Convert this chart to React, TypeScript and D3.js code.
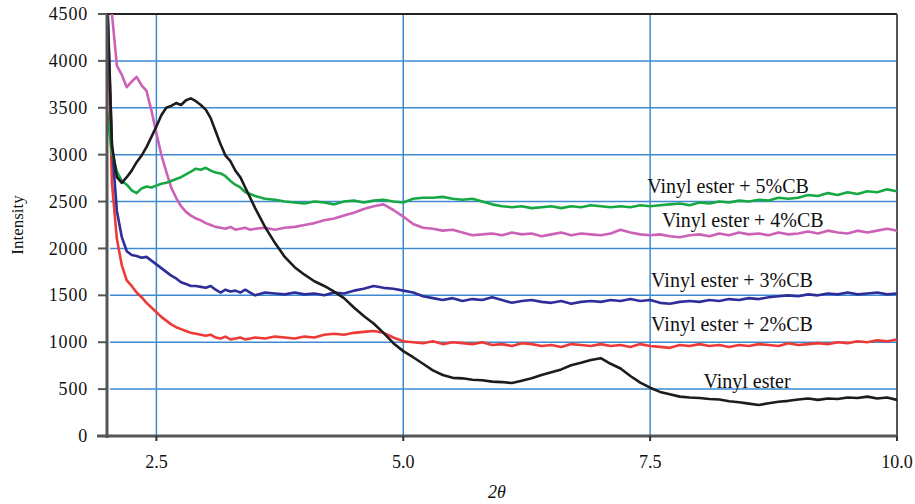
import React from 'react'
import * as d3 from 'd3'

// 2θ positions shared by every scan
const twoTheta = [
  2.0, 2.05, 2.1, 2.15, 2.2, 2.25, 2.3, 2.35, 2.4, 2.45, 2.5, 2.55, 2.6, 2.65, 2.7, 2.75,
  2.8, 2.85, 2.9, 2.95, 3.0, 3.05, 3.1, 3.15, 3.2, 3.25, 3.3, 3.35, 3.4, 3.45, 3.5,
  3.6, 3.7, 3.8, 3.9, 4.0, 4.1, 4.2, 4.3, 4.4, 4.5, 4.6, 4.7, 4.8, 4.9, 5.0,
  5.1, 5.2, 5.3, 5.4, 5.5, 5.6, 5.7, 5.8, 5.9, 6.0, 6.1, 6.2, 6.3, 6.4, 6.5,
  6.6, 6.7, 6.8, 6.9, 7.0, 7.1, 7.2, 7.3, 7.4, 7.5, 7.6, 7.7, 7.8, 7.9, 8.0,
  8.1, 8.2, 8.3, 8.4, 8.5, 8.6, 8.7, 8.8, 8.9, 9.0, 9.1, 9.2, 9.3, 9.4, 9.5,
  9.6, 9.7, 9.8, 9.9, 10.0,
]

const vinylEster = [
  4700, 3100, 2760, 2700, 2760, 2830, 2920, 2990, 3080, 3190, 3300, 3420, 3500, 3520, 3550, 3530,
  3580, 3600, 3570, 3530, 3480, 3390, 3250, 3110, 2990, 2930, 2830, 2760, 2650, 2540, 2430,
  2230, 2060, 1910, 1800, 1720, 1650, 1600, 1540, 1470, 1370, 1280, 1200, 1100, 990, 905,
  840, 770, 700, 650, 620, 615, 600, 595, 580, 575, 565, 590, 615, 650, 680,
  710, 755, 780, 810, 830, 770, 720, 640, 570, 515, 470, 445, 420, 410, 405,
  395, 390, 370, 360, 345, 330, 350, 365, 375, 390, 400, 385, 400, 395, 410,
  405, 420, 400, 410, 385,
]

const cb2 = [
  4700, 2700, 2100, 1820, 1660, 1600, 1530, 1480, 1420, 1370, 1320, 1270, 1230, 1190, 1160, 1140,
  1120, 1100, 1090, 1080, 1070, 1080, 1050, 1040, 1060, 1030, 1040, 1050, 1030, 1040, 1050,
  1040, 1060, 1050, 1040, 1060, 1050, 1080, 1090, 1080, 1100, 1110, 1120, 1100, 1050, 1010,
  1000, 990, 1010, 980, 1000, 990, 980, 1000, 970, 980, 960, 990, 980, 960, 970,
  950, 980, 970, 960, 980, 960, 970, 950, 980, 960, 950, 940, 970, 960, 980,
  960, 970, 950, 970, 960, 980, 970, 960, 990, 970, 980, 990, 980, 1000, 990,
  1010, 1000, 1020, 1010, 1030,
]

const cb3 = [
  4800, 3100, 2400, 2120, 1970, 1930, 1920, 1900, 1910, 1870, 1830, 1790, 1750, 1710, 1680, 1640,
  1620, 1600, 1600, 1590, 1580, 1600, 1560, 1530, 1560, 1540, 1550, 1530, 1560, 1530, 1500,
  1530, 1520, 1510, 1530, 1510, 1520, 1500, 1530, 1520, 1550, 1570, 1600, 1580, 1570, 1550,
  1530, 1490, 1470, 1450, 1470, 1440, 1460, 1450, 1480, 1450, 1420, 1440, 1450, 1430, 1420,
  1440, 1410, 1430, 1440, 1430, 1450, 1440, 1460, 1440, 1450, 1420, 1410, 1430, 1440, 1430,
  1450, 1440, 1460, 1450, 1470, 1460, 1480, 1490, 1500, 1490, 1510, 1500, 1520, 1510, 1530,
  1510, 1520, 1530, 1510, 1520,
]

const cb4 = [
  4800, 4500, 3950, 3850, 3720, 3780, 3830, 3740, 3680, 3470, 3230, 3000, 2820, 2650, 2540, 2450,
  2390, 2350, 2320, 2300, 2270, 2250, 2230, 2220, 2210, 2230, 2200, 2210, 2220, 2200, 2210,
  2220, 2200, 2220, 2230, 2250, 2270, 2300, 2320, 2350, 2380, 2420, 2450, 2470, 2410, 2340,
  2260, 2220, 2210, 2190, 2200, 2170, 2140, 2150, 2160, 2140, 2170, 2150, 2160, 2130, 2150,
  2170, 2140, 2160, 2150, 2140, 2160, 2200, 2170, 2150, 2140, 2150, 2130, 2120, 2140, 2150,
  2130, 2160, 2140, 2170, 2150, 2160, 2140, 2170, 2150, 2160, 2180, 2160, 2190, 2170, 2160,
  2190, 2170, 2190, 2210, 2190,
]

const cb5 = [
  3470, 3020, 2820, 2720, 2680, 2620, 2590, 2640, 2660, 2650, 2670, 2690, 2700, 2720, 2740, 2760,
  2790, 2820, 2850, 2840, 2860, 2830, 2810, 2800, 2770, 2720, 2680, 2650, 2600, 2580, 2560,
  2530, 2520, 2500, 2490, 2480, 2500, 2490, 2470, 2500, 2510, 2490, 2510, 2520, 2500, 2490,
  2530, 2540, 2540, 2550, 2530, 2520, 2530, 2500, 2470, 2450, 2440, 2450, 2430, 2440, 2450,
  2430, 2450, 2440, 2460, 2450, 2440, 2450, 2440, 2460, 2450, 2460, 2470, 2480, 2460, 2490,
  2480, 2500, 2490, 2510, 2500, 2520, 2510, 2540, 2530, 2540, 2570, 2560, 2590, 2570, 2600,
  2580, 2610, 2600, 2630, 2610,
]

const seriesNames = ['Vinyl ester + 2%CB', 'Vinyl ester + 3%CB', 'Vinyl ester + 4%CB', 'Vinyl ester + 5%CB', 'Vinyl ester']
const seriesValues = [cb2, cb3, cb4, cb5, vinylEster]
const seriesColors = ['#ee3a36', '#2e2e9a', '#cc62b8', '#17a844', '#1c1c1c']
// label anchor in data units (2θ, intensity)
const labelX = [7.51, 7.51, 7.62, 7.47, 8.04]
const labelY = [1125, 1589, 2229, 2591, 517]

const xTicks = [2.5, 5.0, 7.5, 10.0]
const yTicks = [0, 500, 1000, 1500, 2000, 2500, 3000, 3500, 4000, 4500]

const W = 915
const H = 504
const left = 107
const right = 897
const top = 14
const bottom = 436

export default function App() {
  const x = d3.scaleLinear().domain([2, 10]).range([left, right])
  const y = d3.scaleLinear().domain([0, 4500]).range([bottom, top])

  const line = d3.line<number>()
    .x((d, i) => x(twoTheta[i]))
    .y(d => y(d))
    .curve(d3.curveLinear)

  const serif = '"Liberation Serif", "Times New Roman", serif'
  const grid = '#3d8ad0'

  return (
    <svg width={W} height={H} style={{ position: 'absolute', left: 0, top: 0, background: '#fff' }}>
      <defs>
        <clipPath id="plot">
          <rect x={left} y={top} width={right - left} height={bottom - top} />
        </clipPath>
      </defs>

      {/* gridlines */}
      {yTicks.filter(t => t > 0 && t < 4500).map(t => (
        <line key={'gy' + t} x1={left + 3} x2={right} y1={y(t)} y2={y(t)} stroke={grid} strokeWidth={1.5} />
      ))}
      {xTicks.filter(t => t < 10).map(t => (
        <line key={'gx' + t} x1={x(t)} x2={x(t)} y1={top} y2={bottom} stroke={grid} strokeWidth={1.5} />
      ))}

      {/* frame */}
      <line x1={left} x2={right} y1={top} y2={top} stroke="#222" strokeWidth={2} />
      <line x1={right} x2={right} y1={top} y2={bottom} stroke="#555" strokeWidth={2} />

      {/* scans */}
      <g clipPath="url(#plot)">
        {seriesValues.map((vals, i) => (
          <path key={seriesNames[i]} d={line(vals) || ''} fill="none" stroke={seriesColors[i]}
            strokeWidth={2.6} strokeLinejoin="round" strokeLinecap="round" />
        ))}
      </g>

      {/* axes */}
      <line x1={left} x2={left} y1={top} y2={bottom + 2} stroke="#555" strokeWidth={3} />
      <line x1={left - 10} x2={right} y1={bottom} y2={bottom} stroke="#555" strokeWidth={3} />
      {yTicks.map(t => (
        <g key={'ty' + t}>
          <line x1={left - 9} x2={left} y1={y(t)} y2={y(t)} stroke="#555" strokeWidth={2} />
          <text x={left - 19} y={y(t)} dy="0.34em" textAnchor="end" fontFamily={serif} fontSize={18}
            letterSpacing={0.8} fill="#111">{t}</text>
        </g>
      ))}
      {xTicks.map(t => (
        <g key={'tx' + t}>
          <line x1={x(t)} x2={x(t)} y1={bottom} y2={bottom + 5} stroke="#333" strokeWidth={2} />
          <text x={x(t)} y={468} textAnchor="middle" fontFamily={serif} fontSize={18} fill="#111">
            {d3.format('.1f')(t)}
          </text>
        </g>
      ))}

      {/* axis titles */}
      <text x={497} y={498} textAnchor="middle" fontFamily={serif} fontSize={18} fontStyle="italic" fill="#111">2θ</text>
      <text transform="translate(23,225) rotate(-90)" textAnchor="middle" fontFamily={serif} fontSize={17} fill="#111">
        Intensity
      </text>

      {/* series labels */}
      {seriesNames.map((name, i) => (
        <text key={'lb' + name} x={x(labelX[i])} y={y(labelY[i])} fontFamily={serif} fontSize={20} fill="#111">
          {name}
        </text>
      ))}
    </svg>
  )
}
